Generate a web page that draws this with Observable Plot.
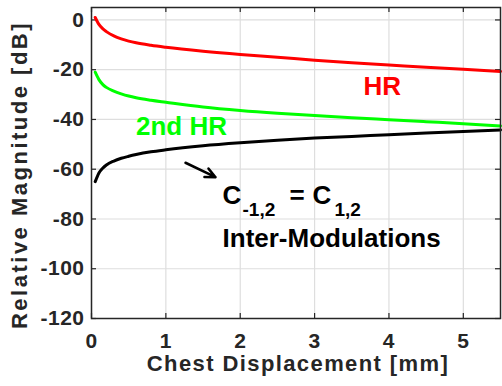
<!DOCTYPE html>
<html>
<head>
<meta charset="utf-8">
<script src="https://cdn.jsdelivr.net/npm/d3@7"></script>
<script src="https://cdn.jsdelivr.net/npm/@observablehq/plot@0.6"></script>
<style>
  html, body { margin: 0; padding: 0; background: #fff; }
</style>
</head>
<body>
<div id="chart"></div>
<script>
// Chest displacement [mm]
const displacement = [0.05, 0.1, 0.15, 0.2, 0.3, 0.4, 0.5, 0.6, 0.8, 1, 1.5, 2, 2.5, 3, 3.5, 4, 4.5, 5, 5.5];
// Relative magnitude [dB]
const hr      = [1.0, -1.8, -3.5, -4.7, -6.4, -7.6, -8.5, -9.2, -10.2, -11.0, -12.6, -13.9, -15.0, -16.2, -17.2, -18.1, -19.0, -19.8, -20.7];
const hr2nd   = [-21.0, -24.0, -25.9, -27.1, -28.6, -29.7, -30.6, -31.3, -32.3, -33.1, -35.0, -36.4, -37.5, -38.4, -39.3, -40.1, -40.9, -41.7, -42.6];
const interMod = [-65.0, -61.5, -59.6, -58.3, -56.7, -55.6, -54.8, -54.1, -53.0, -52.2, -50.6, -49.4, -48.4, -47.5, -46.8, -46.1, -45.4, -44.8, -44.2];

const xTicks = [0, 1, 2, 3, 4, 5];
const yTicks = [-120, -100, -80, -60, -40, -20, 0];
const xLabel = "Chest Displacement [mm]";
const yLabel = "Relative Magnitude [dB]";

const seriesNames = ["HR", "2nd HR", "C-1,2 = C1,2"];
const seriesColors = ["#ff0000", "#00ff00", "#000000"];
const seriesValues = [hr, hr2nd, interMod];

const rows = [];
seriesNames.forEach((s, k) => displacement.forEach((d, i) => rows.push({series: s, x: d, y: seriesValues[k][i]})));

// annotation labels (data coordinates)
const bigLabels = [
  {text: "HR", x: 3.658, y: -30.1, color: "#ff0000"},
  {text: "2nd HR", x: 0.598, y: -46.2, color: "#00ff00"},
  {text: "C", x: 1.762, y: -73.9, color: "#000000"},
  {text: "=", x: 2.663, y: -73.9, color: "#000000"},
  {text: "C", x: 2.972, y: -73.9, color: "#000000"},
  {text: "Inter-Modulations", x: 1.762, y: -91.4, color: "#000000"}
];
const subLabels = [
  {text: "-1,2", x: 2.031, y: -79.0},
  {text: "1,2", x: 3.268, y: -79.0}
];
const arrows = [{x1: 1.264, y1: -57.4, x2: 1.668, y2: -63.2}];

const W = 502, H = 386;
const mt = 7, mb = 68, ml = 91, mr = 2;
const ph = H - mt - mb, pw = W - ml - mr;

const chart = Plot.plot({
  width: W,
  height: H,
  marginTop: mt,
  marginBottom: mb,
  marginLeft: ml,
  marginRight: mr,
  style: {fontFamily: "'Liberation Sans', Arial, sans-serif", fontWeight: "bold", fontSize: "21px", color: "#262626", background: "#fff"},
  x: {domain: [0, 5.5]},
  y: {domain: [-120, 5]},
  color: {domain: seriesNames, range: seriesColors},
  marks: [
    Plot.gridX(xTicks, {stroke: "#dedede", strokeOpacity: 1, strokeWidth: 1.2}),
    Plot.gridY(yTicks, {stroke: "#dedede", strokeOpacity: 1, strokeWidth: 1.2}),
    Plot.ruleX(xTicks, {insetTop: ph - 5, stroke: "#262626", strokeWidth: 1.2}),
    Plot.ruleX(xTicks, {insetBottom: ph - 5, stroke: "#262626", strokeWidth: 1.2}),
    Plot.ruleY(yTicks, {insetRight: pw - 5, stroke: "#262626", strokeWidth: 1.2}),
    Plot.ruleY(yTicks, {insetLeft: pw - 5, stroke: "#262626", strokeWidth: 1.2}),
    Plot.axisX({ticks: xTicks, tickSize: 0, tickPadding: 15, label: null, tickFormat: d => String(d), fontSize: 21}),
    Plot.axisY({ticks: yTicks, tickSize: 0, tickPadding: 7, label: null, tickFormat: d => String(d), fontSize: 21}),
    Plot.text([xLabel], {frameAnchor: "bottom", text: d => d, textAnchor: "middle", lineAnchor: "bottom", dy: 52, dx: 2, fontSize: 22, fill: "#262626"}),
    Plot.text([yLabel], {frameAnchor: "left", text: d => d, textAnchor: "middle", rotate: -90, lineAnchor: "bottom", dx: -65, dy: 12, fontSize: 22, fill: "#262626"}),
    Plot.line(rows, {x: "x", y: "y", z: "series", stroke: "series", strokeWidth: 3, curve: "monotone-x"}),
    Plot.text(bigLabels, {x: "x", y: "y", text: "text", fill: d => d.color, fontSize: 26, textAnchor: "start", lineAnchor: "bottom"}),
    Plot.text(subLabels, {x: "x", y: "y", text: "text", fill: "#000", fontSize: 19, textAnchor: "start", lineAnchor: "bottom"}),
    Plot.arrow(arrows, {x1: "x1", y1: "y1", x2: "x2", y2: "y2", stroke: "#000", strokeWidth: 2.5, headLength: 11, headAngle: 50}),
    Plot.frame({stroke: "#262626", strokeWidth: 1.5})
  ]
});
// letter spacing to mimic the wider axis typography of the original
chart.querySelectorAll("text").forEach(t => {
  const s = t.textContent;
  if (s === xLabel) t.style.letterSpacing = "1.4px";
  else if (s === yLabel) t.style.letterSpacing = "2.5px";
});
chart.querySelectorAll('g[aria-label="x-axis tick label"] text, g[aria-label="y-axis tick label"] text').forEach(t => {
  t.style.letterSpacing = "0.5px";
});
document.getElementById("chart").appendChild(chart);
</script>
</body>
</html>
